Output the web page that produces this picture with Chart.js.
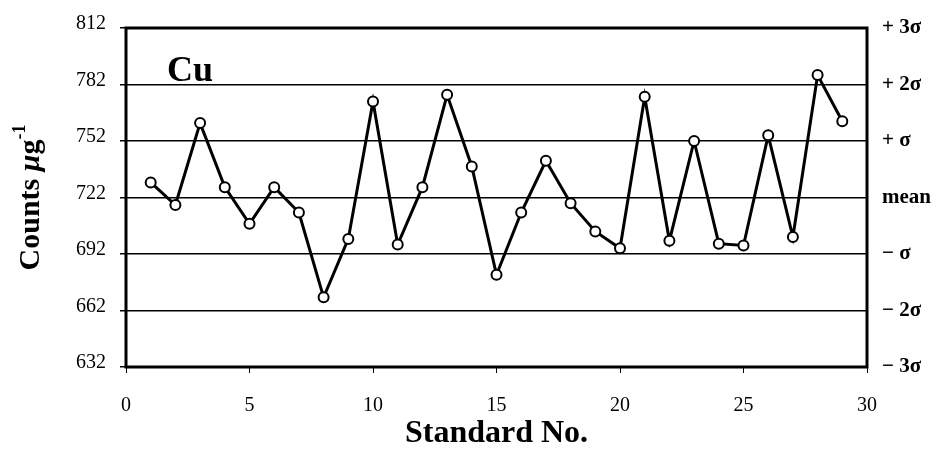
<!DOCTYPE html>
<html>
<head>
<meta charset="utf-8">
<script src="https://cdn.jsdelivr.net/npm/chart.js@4/dist/chart.umd.min.js"></script>
<style>
  html, body { margin: 0; padding: 0; background: #fff; }
  #wrap { width: 942px; height: 450px; position: relative; }
</style>
</head>
<body>
<div id="wrap"><canvas id="c"></canvas></div>
<script>
// Cu standard check: counts per microgram for each standard run
const standardNo = [1, 2, 3, 4, 5, 6, 7, 8, 9, 10, 11, 12, 13, 14, 15, 16, 17, 18, 19, 20, 21, 22, 23, 24, 25, 26, 27, 28, 29];
const counts = [730, 718, 761.5, 727.5, 708, 727.5, 714, 669, 700, 773, 697, 727.5, 776.5, 738.5, 681, 714, 741.5, 719, 704, 695, 775.5, 699, 752, 697.5, 696.5, 755, 701, 787, 762.5];

// Left axis ticks and the matching control-limit labels on the right
const countTicks = [632, 662, 692, 722, 752, 782, 812];
const sigmaLabels = ['\u2212 3\u03c3', '\u2212 2\u03c3', '\u2212 \u03c3', 'mean', '+ \u03c3', '+ 2\u03c3', '+ 3\u03c3'];
const xTicks = [0, 5, 10, 15, 20, 25, 30];

const SERIF = '"Liberation Serif", "Times New Roman", serif';

const decorations = {
  id: 'decorations',
  beforeDatasetsDraw(chart) {
    const { ctx, chartArea: a } = chart;
    ctx.save();
    ctx.strokeStyle = '#000';
    ctx.lineWidth = 3;
    ctx.strokeRect(a.left, a.top, a.right - a.left, a.bottom - a.top);
    ctx.restore();
  },
  afterDraw(chart) {
    const { ctx, chartArea: a } = chart;
    ctx.save();
    ctx.fillStyle = '#000';
    // element label inside the plot
    ctx.font = 'bold 36px ' + SERIF;
    ctx.textBaseline = 'alphabetic';
    ctx.textAlign = 'left';
    ctx.fillText('Cu', 167, 81);

    // rotated y-axis title with italic mu and superscript -1
    const cy = (a.top + a.bottom) / 2;
    ctx.translate(29, cy);
    ctx.rotate(-Math.PI / 2);
    const parts = [
      { t: 'Counts ', f: 'bold 30px ' + SERIF, dy: 0 },
      { t: '\u03bc', f: 'italic bold 30px ' + SERIF, dy: 0 },
      { t: 'g', f: 'bold 30px ' + SERIF, dy: 0 },
      { t: '-1', f: 'bold 18px ' + SERIF, dy: -14 }
    ];
    let total = 0;
    parts.forEach(p => { ctx.font = p.f; p.w = ctx.measureText(p.t).width; total += p.w; });
    let x = -total / 2;
    parts.forEach(p => {
      ctx.font = p.f;
      ctx.fillText(p.t, x, 10 + p.dy);
      x += p.w;
    });
    ctx.restore();
  }
};

new Chart(document.getElementById('c'), {
  type: 'line',
  data: {
    datasets: [{
      data: standardNo.map((n, i) => ({ x: n, y: counts[i] })),
      borderColor: '#000',
      borderWidth: 3,
      pointRadius: 5,
      pointBorderWidth: 2,
      pointBackgroundColor: '#fff',
      pointBorderColor: '#000',
      tension: 0,
      yAxisID: 'y'
    }]
  },
  options: {
    responsive: true,
    maintainAspectRatio: false,
    animation: false,
    layout: { padding: { top: 28, left: 0, right: 0, bottom: 0 } },
    plugins: { legend: { display: false }, tooltip: { enabled: false } },
    scales: {
      x: {
        type: 'linear',
        min: 0, max: 30,
        afterFit(s) { s.height = 83; },
        afterBuildTicks(s) { s.ticks = xTicks.map(v => ({ value: v })); },
        border: { display: false },
        grid: { drawOnChartArea: false, drawTicks: true, tickLength: 6, color: '#000', lineWidth: 1 },
        ticks: { color: '#000', font: { family: SERIF, size: 20 }, padding: 21, maxRotation: 0 },
        title: {
          display: true, text: 'Standard No.', color: '#000',
          font: { family: SERIF, size: 32, weight: 'bold', lineHeight: 1 },
          padding: { top: 0, bottom: 0 }
        }
      },
      y: {
        position: 'left',
        min: 632, max: 812,
        afterFit(s) { s.width = 126; },
        afterBuildTicks(s) { s.ticks = countTicks.map(v => ({ value: v })); },
        border: { display: false },
        grid: { color: '#000', lineWidth: 1.5, drawTicks: true, tickLength: 6 },
        ticks: { color: '#000', font: { family: SERIF, size: 20 }, padding: 14, labelOffset: -4 }
      },
      y2: {
        position: 'right',
        min: 632, max: 812,
        afterFit(s) { s.width = 75; },
        afterBuildTicks(s) { s.ticks = countTicks.map(v => ({ value: v })); },
        border: { display: false },
        grid: { drawOnChartArea: false, drawTicks: false },
        ticks: {
          color: '#000',
          font: { family: SERIF, size: 21, weight: 'bold' },
          padding: 15,
          callback: (v) => sigmaLabels[countTicks.indexOf(v)]
        }
      }
    }
  },
  plugins: [decorations]
});
</script>
</body>
</html>
